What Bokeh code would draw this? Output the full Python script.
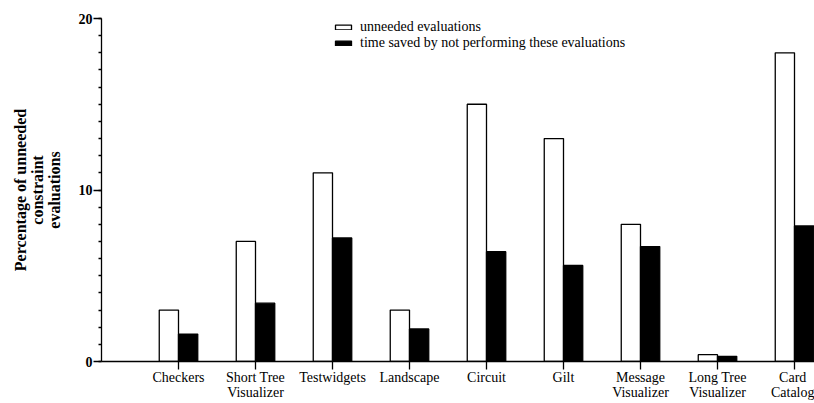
from bokeh.plotting import figure
from bokeh.models import (Range1d, FixedTicker, SingleIntervalTicker, ColumnDataSource,
                          Legend, LegendItem)
from bokeh.embed import file_html
from bokeh.resources import INLINE

categories = ["Checkers", "Short Tree\nVisualizer", "Testwidgets", "Landscape", "Circuit",
              "Gilt", "Message\nVisualizer", "Long Tree\nVisualizer", "Card\nCatalog"]
unneeded = [3.0, 7.0, 11.0, 3.0, 15.0, 13.0, 8.0, 0.4, 18.0]
saved = [1.6, 3.4, 7.2, 1.9, 6.4, 5.6, 6.7, 0.3, 7.9]
series_names = ["unneeded evaluations", "time saved by not performing these evaluations"]
y_label = "Percentage of unneeded\nconstraint\nevaluations"

SERIF = "'Liberation Serif', 'Times New Roman', serif"
BAR_W = 0.25
positions = list(range(1, len(categories) + 1))

W, H = 814, 403
LEFT = 101
TOP = 18
BOTTOM_AXIS = 42
px_per_unit = 77.0

p = figure(width=W, height=H, output_backend="svg", toolbar_location=None,
           x_range=Range1d(0, (W - LEFT) / px_per_unit), y_range=Range1d(0, 20),
           min_border_left=LEFT, min_border_right=0, min_border_top=TOP, min_border_bottom=0)
p.outline_line_color = None
p.xgrid.visible = False
p.ygrid.visible = False
p.background_fill_color = "white"
p.border_fill_color = "white"

src = ColumnDataSource(dict(
    xw=[x - BAR_W / 2 for x in positions],
    xb=[x + BAR_W / 2 for x in positions],
    u=unneeded, s=saved))

r1 = p.vbar(x="xw", top="u", bottom=0, width=BAR_W, source=src,
            fill_color="white", line_color="black", line_width=1.3)
r2 = p.vbar(x="xb", top="s", bottom=0, width=BAR_W, source=src,
            fill_color="black", line_color="black", line_width=1.3)

# x axis
xa = p.xaxis[0]
xa.ticker = FixedTicker(ticks=positions)
xa.major_label_overrides = {pos: lab for pos, lab in zip(positions, categories)}
xa.major_label_text_font = SERIF
xa.major_label_text_font_size = "14px"
xa.major_label_text_color = "black"
xa.major_label_text_line_height = 1.05
xa.major_label_standoff = 0
xa.major_tick_out = 8
xa.major_tick_in = 0
xa.minor_tick_out = 0
xa.minor_tick_in = 0
xa.axis_line_color = "black"
xa.axis_line_width = 1.3
xa.major_tick_line_color = "black"
xa.major_tick_line_width = 1.3

# y axis
ya = p.yaxis[0]
ya.ticker = SingleIntervalTicker(interval=10, num_minor_ticks=10)
ya.major_label_text_font = SERIF
ya.major_label_text_font_size = "14px"
ya.major_label_text_font_style = "bold"
ya.major_label_text_color = "black"
ya.major_label_standoff = 1
ya.major_tick_out = 8
ya.major_tick_in = 0
ya.minor_tick_out = 3
ya.minor_tick_in = 0
ya.axis_line_color = "black"
ya.axis_line_width = 1.3
ya.major_tick_line_color = "black"
ya.major_tick_line_width = 1.3
ya.minor_tick_line_color = "black"
ya.minor_tick_line_width = 1.3
ya.axis_label = y_label
ya.axis_label_text_font = SERIF
ya.axis_label_text_font_size = "16px"
ya.axis_label_text_font_style = "bold"
ya.axis_label_text_color = "black"
ya.axis_label_text_line_height = 1.0
ya.axis_label_standoff = 13

frame_height = H - BOTTOM_AXIS - TOP
legend = Legend(items=[LegendItem(label=series_names[0], renderers=[r1]),
                       LegendItem(label=series_names[1], renderers=[r2])],
                location=(232, frame_height - 33),
                glyph_width=20, glyph_height=6, label_height=16, spacing=0,
                label_standoff=7, padding=0, margin=0,
                border_line_color=None, background_fill_alpha=0,
                label_text_font=SERIF, label_text_font_size="14px",
                label_text_color="black")
p.add_layout(legend, "center")

open("out.html", "w").write(file_html(p, INLINE))
